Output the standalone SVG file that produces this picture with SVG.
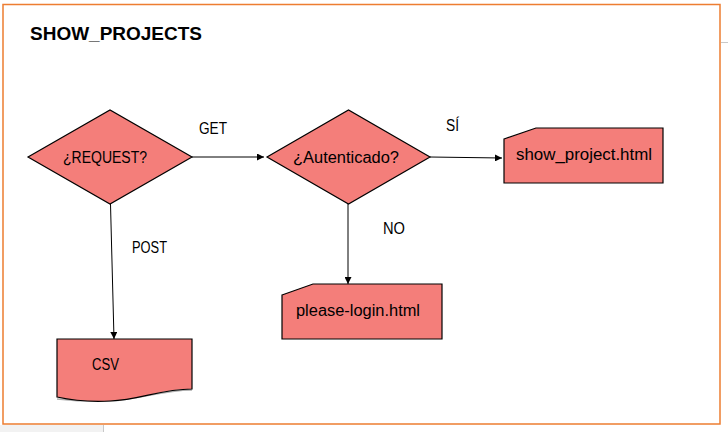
<svg xmlns="http://www.w3.org/2000/svg" width="728" height="432" viewBox="0 0 728 432">
<defs>
<style>
.shape{fill:#F47E7A;stroke:#000;stroke-width:1.2}
.lbl{font-family:"Liberation Sans",Arial,sans-serif;font-size:16px;fill:#000}
.title{font-family:"Liberation Sans",Arial,sans-serif;font-size:19px;font-weight:bold;fill:#000}
.conn{stroke:#000;stroke-width:1;fill:none;marker-end:url(#arr)}
</style>
<marker id="arr" viewBox="0 0 10 10" refX="10" refY="5" markerWidth="7" markerHeight="7" markerUnits="userSpaceOnUse" orient="auto">
<path d="M0,0 L10,5 L0,10 Z" fill="#000"/>
</marker>
</defs>
<rect width="728" height="432" fill="#fff"/>
<rect x="0" y="425" width="103" height="7" fill="#f2f2f2"/>
<line x1="103.5" y1="425" x2="103.5" y2="432" stroke="#c8c8c8"/>
<line x1="721" y1="42.5" x2="728" y2="42.5" stroke="#c8c8c8"/>
<rect x="3" y="4.5" width="717" height="419.5" fill="none" stroke="#ED7D31" stroke-width="1.5"/>
<text class="title" x="30" y="40" textLength="172" lengthAdjust="spacingAndGlyphs">SHOW_PROJECTS</text>

<g id="connectors">
<line class="conn" x1="192" y1="157" x2="264" y2="157"/>
<line class="conn" x1="110.5" y1="204" x2="114" y2="339"/>
<line class="conn" x1="430" y1="157" x2="502" y2="158"/>
<line class="conn" x1="348" y1="203" x2="348" y2="284"/>
<text class="lbl" x="199" y="134" textLength="28" lengthAdjust="spacingAndGlyphs">GET</text>
<text class="lbl" x="132" y="253" textLength="35" lengthAdjust="spacingAndGlyphs">POST</text>
<text class="lbl" x="446" y="131" textLength="13" lengthAdjust="spacingAndGlyphs">SÍ</text>
<text class="lbl" x="383" y="234" textLength="22" lengthAdjust="spacingAndGlyphs">NO</text>
</g>

<g id="request">
<polygon class="shape" points="28,157 110,110 192,157 110,204"/>
<text class="lbl" x="63" y="163" textLength="84" lengthAdjust="spacingAndGlyphs">¿REQUEST?</text>
</g>

<g id="autenticado">
<polygon class="shape" points="267,157 348.5,110 430,157 348.5,204"/>
<text class="lbl" x="293" y="163" textLength="106" lengthAdjust="spacingAndGlyphs">¿Autenticado?</text>
</g>

<g id="show_project">
<polygon class="shape" points="504,139 536,128 663,128 663,183 504,183"/>
<text class="lbl" x="516" y="160" textLength="136" lengthAdjust="spacingAndGlyphs">show_project.html</text>
</g>

<g id="please_login">
<polygon class="shape" points="282,295 313,284 442,284 442,339 282,339"/>
<text class="lbl" x="296" y="316" textLength="124" lengthAdjust="spacingAndGlyphs">please-login.html</text>
</g>

<g id="csv">
<path d="M57,398 C75,400 90,401 110,400 C140,399 160,389 192,389" fill="none" stroke="#b0b0b0" stroke-width="1.5" transform="translate(0,1)"/>
<path class="shape" d="M57,339 L192,339 L192,389 C160,389 140,400 110,401 C90,402 75,401 57,397 Z"/>
<text class="lbl" x="92" y="370" textLength="27" lengthAdjust="spacingAndGlyphs">CSV</text>
</g>
</svg>
